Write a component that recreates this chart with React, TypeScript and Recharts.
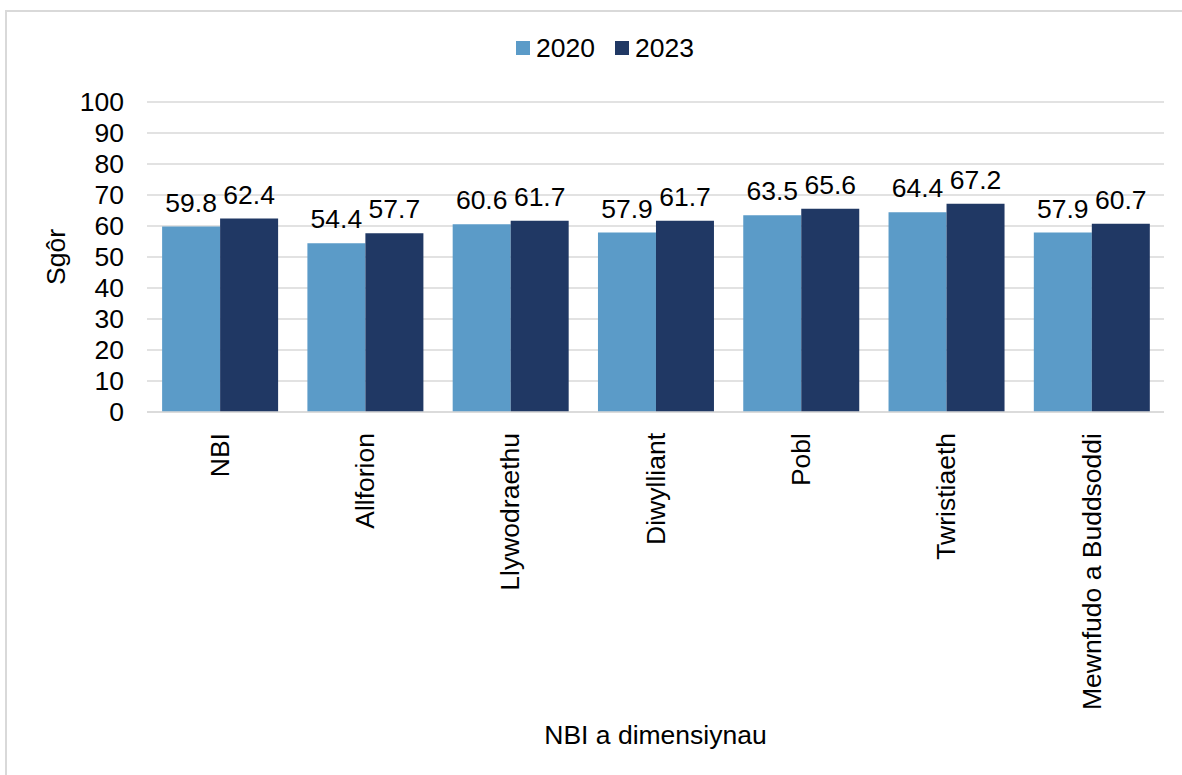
import React from "react"
import { BarChart, Bar, XAxis, YAxis, CartesianGrid, LabelList, Label } from "recharts"

const categories = ["NBI", "Allforion", "Llywodraethu", "Diwylliant", "Pobl", "Twristiaeth", "Mewnfudo a Buddsoddi"]
const values2020 = [59.8, 54.4, 60.6, 57.9, 63.5, 64.4, 57.9]
const values2023 = [62.4, 57.7, 61.7, 61.7, 65.6, 67.2, 60.7]
const yTicks = [0, 10, 20, 30, 40, 50, 60, 70, 80, 90, 100]
const seriesNames = ["2020", "2023"]

const LIGHT = "#5b9bc8"
const DARK = "#203864"
const FONT = "'Liberation Sans', Arial, sans-serif"
const FS = 26.5

const data = categories.map((name, i) => ({ name, y2020: values2020[i], y2023: values2023[i] }))

// rotated category labels, reading bottom-to-top
function RotatedTick(props: any) {
  const { x, y, payload } = props
  const ty = y + 13
  return (
    <text
      x={x}
      y={ty}
      transform={`rotate(-90, ${x}, ${ty})`}
      textAnchor="end"
      dy="0.35em"
      fontSize={FS}
      fontFamily={FONT}
      fill="#000"
    >
      {payload.value}
    </text>
  )
}

function ChartLegend() {
  const colors = [LIGHT, DARK]
  return (
    <div
      style={{
        position: "absolute",
        left: 14,
        top: 32,
        width: 1182,
        display: "flex",
        justifyContent: "center",
        fontFamily: FONT,
        fontSize: FS,
        lineHeight: "32px",
        color: "#000",
      }}
    >
      {seriesNames.map((label, i) => (
        <div key={label} style={{ display: "flex", alignItems: "center", margin: "0 10px" }}>
          <span style={{ width: 14, height: 14, background: colors[i], marginRight: 6, display: "inline-block" }} />
          <span>{label}</span>
        </div>
      ))}
    </div>
  )
}

export default function App() {
  return (
    <div style={{ position: "absolute", left: 0, top: 0, width: 1182, height: 775, background: "#fff", overflow: "hidden" }}>
      <div
        style={{
          position: "absolute",
          left: 5,
          top: 10,
          width: 1200,
          height: 800,
          border: "2px solid #d9d9d9",
          boxSizing: "border-box",
        }}
      />
      <ChartLegend />
      <div style={{ position: "absolute", left: 0, top: 0 }}>
        <BarChart
          width={1182}
          height={775}
          data={data}
          margin={{ top: 102, right: 18, left: 0, bottom: 0 }}
          barCategoryGap="10.4%"
          barGap={0}
        >
          <CartesianGrid vertical={false} stroke="#d9d9d9" strokeWidth={1.5} />
          <XAxis
            dataKey="name"
            height={363}
            interval={0}
            tickLine={false}
            axisLine={{ stroke: "#d9d9d9", strokeWidth: 1.5 }}
            tick={<RotatedTick />}
          >
            <Label
              value="NBI a dimensiynau"
              position="insideBottom"
              offset={31}
              style={{ fontSize: FS, fontFamily: FONT, fill: "#000" }}
            />
          </XAxis>
          <YAxis
            width={147}
            domain={[0, 100]}
            ticks={yTicks}
            interval={0}
            axisLine={false}
            tickLine={false}
            tickSize={0}
            tickMargin={23}
            tick={{ fontSize: FS, fontFamily: FONT, fill: "#000" }}
          >
            <Label
              value="Sgôr"
              angle={-90}
              position="center"
              dx={-18}
              style={{ fontSize: FS, fontFamily: FONT, fill: "#000", textAnchor: "middle" }}
            />
          </YAxis>
          <Bar dataKey="y2020" name={seriesNames[0]} fill={LIGHT} isAnimationActive={false}>
            <LabelList
              dataKey="y2020"
              position="top"
              offset={15}
              style={{ fontSize: FS, fontFamily: FONT, fill: "#000" }}
            />
          </Bar>
          <Bar dataKey="y2023" name={seriesNames[1]} fill={DARK} isAnimationActive={false}>
            <LabelList
              dataKey="y2023"
              position="top"
              offset={15}
              style={{ fontSize: FS, fontFamily: FONT, fill: "#000" }}
            />
          </Bar>
        </BarChart>
      </div>
    </div>
  )
}
